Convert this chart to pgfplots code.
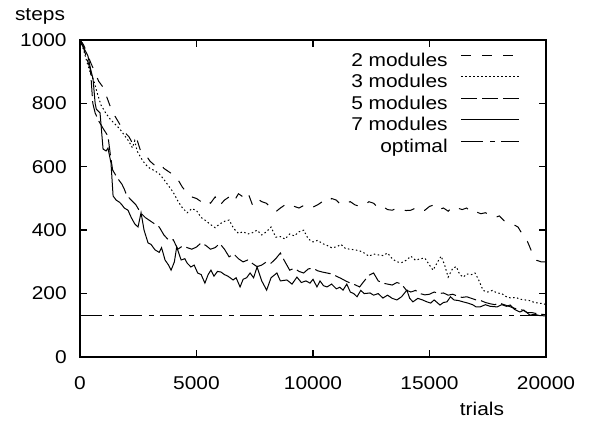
\documentclass[border=0pt]{standalone}
\usepackage{fontspec}
\setmainfont{Liberation Sans}[FakeStretch=1.13]
\usepackage{pgfplots}
\pgfplotsset{compat=1.18}

\begin{document}
\fontsize{18.5bp}{21bp}\selectfont
\begin{tikzpicture}
\begin{axis}[
  at={(0,0)}, anchor=south west,
  scale only axis,
  width=466bp, height=317bp,
  xmin=0, xmax=20000,
  ymin=0, ymax=1000,
  xtick={0,5000,10000,15000,20000},
  ytick={0,200,400,600,800,1000},
  scaled x ticks=false,
  /pgf/number format/assume math mode=true,
  /pgf/number format/1000 sep={},
  tick align=inside,
  major tick length=7bp,
  axis line style={line width=1.4bp},
  every tick/.style={line width=1.4bp, black},
  xticklabel style={yshift=-13bp},
  yticklabel style={xshift=-7bp},
  clip=false,
  legend plot pos=right,
  legend cell align=right,
  legend image code/.code={\draw[#1] (0bp,6bp) -- (58bp,6bp);},
  legend style={draw=none, fill=none, inner sep=0pt,
    at={(rel axis cs:0.944,0.967)}, anchor=north east,
    nodes={text height=13.5bp, text depth=3.5bp, inner sep=2bp},
    row sep=0.5bp,
    /tikz/every odd column/.append style={column sep=11bp}},
]
% 2 modules
\addplot[black, line width=1bp, dash pattern=on 10bp off 11bp] coordinates {
(0,1000)(150,985)(300,960)(450,930)(600,905)(800,870)(1000,850)(1150,820)(1300,790)
(1500,760)(1700,735)(1900,710)(2100,695)(2300,668)(2450,685)(2600,650)(2800,640)
(3000,618)(3200,605)(3400,612)(3600,595)(3800,585)(4000,575)(4200,560)(4400,535)
(4600,518)(4800,505)(5000,500)(5200,490)(5400,498)(5600,485)(5800,505)(6000,478)
(6200,495)(6400,505)(6600,490)(6800,515)(7000,505)(7200,520)(7400,480)(7600,500)
(7800,490)(8000,485)(8200,470)(8400,458)(8600,470)(8800,480)(9000,485)(9200,475)
(9400,470)(9600,478)(9800,470)(10000,473)(10200,480)(10400,490)(10600,485)(10800,500)
(11000,495)(11200,480)(11400,485)(11600,490)(11800,480)(12000,475)(12200,478)(12400,490)
(12600,485)(12800,470)(13000,475)(13200,465)(13400,463)(13600,470)(13800,465)(14000,462)
(14200,463)(14400,470)(14600,460)(14800,463)(15000,475)(15200,480)(15400,465)(15600,470)
(15800,460)(16000,475)(16200,470)(16400,465)(16600,470)(16800,455)(17000,458)(17200,452)
(17400,455)(17600,448)(17800,440)(18000,445)(18200,430)(18400,422)(18600,418)(18800,410)
(19000,385)(19200,365)(19400,330)(19600,305)(19800,300)(20000,300)
};
\addlegendentry{2 modules}
% 3 modules
\addplot[black, line width=1bp, dash pattern=on 1.5bp off 2.5bp] coordinates {
(0,1000)(150,970)(300,930)(450,895)(600,870)(750,830)(900,795)(1100,770)(1300,750)
(1500,735)(1700,720)(1900,700)(2100,680)(2250,660)(2350,682)(2450,650)(2600,630)
(2800,608)(3000,595)(3200,588)(3400,578)(3600,560)(3800,540)(4000,520)(4200,492)
(4400,470)(4600,455)(4800,468)(5000,462)(5200,440)(5400,430)(5600,418)(5800,408)
(6000,420)(6200,428)(6400,432)(6600,405)(6800,390)(7000,395)(7200,388)(7400,392)
(7600,400)(7800,385)(8000,395)(8200,410)(8400,378)(8600,380)(8800,372)(9000,388)
(9200,382)(9400,395)(9600,400)(9800,372)(10000,363)(10200,368)(10400,358)(10600,352)
(10800,345)(11000,347)(11200,355)(11400,342)(11600,340)(11800,338)(12000,335)(12200,328)
(12400,318)(12600,325)(12800,322)(13000,320)(13200,328)(13400,310)(13600,300)(13800,298)
(14000,305)(14200,318)(14400,305)(14600,310)(14800,312)(15000,290)(15150,274)(15350,300)
(15500,318)(15650,290)(15800,252)(16000,280)(16150,285)(16300,260)(16450,252)(16600,262)
(16800,260)(16950,265)(17100,245)(17300,210)(17500,205)(17700,210)(17900,202)(18100,200)
(18300,190)(18500,186)(18700,188)(18900,182)(19100,180)(19300,178)(19500,172)(19700,170)
(19900,168)(20000,165)
};
\addlegendentry{3 modules}
% 5 modules
\addplot[black, line width=1bp, dash pattern=on 16bp off 5bp] coordinates {
(0,1000)(150,975)(300,940)(450,905)(550,800)(650,770)(800,745)(1000,720)(1200,697)
(1300,640)(1400,590)(1600,565)(1800,545)(1900,530)(2000,510)(2200,495)(2400,480)
(2600,455)(2800,440)(3000,430)(3200,420)(3400,410)(3600,385)(3800,369)(4000,370)
(4200,340)(4400,350)(4600,345)(4800,340)(5000,347)(5200,360)(5400,352)(5600,340)
(5800,345)(6000,358)(6200,340)(6400,316)(6600,325)(6800,310)(7000,300)(7200,306)
(7400,295)(7600,285)(7800,290)(8000,300)(8200,296)(8400,310)(8600,328)(8800,300)
(9000,274)(9200,280)(9400,270)(9600,265)(9800,278)(10000,280)(10200,272)(10400,268)
(10600,265)(10800,262)(11000,255)(11200,248)(11400,240)(11600,233)(11800,228)(12000,221)
(12200,240)(12400,258)(12600,265)(12800,240)(13000,233)(13200,230)(13400,227)(13600,235)
(13800,230)(14000,211)(14200,205)(14400,210)(14600,200)(14800,196)(15000,198)(15200,205)
(15400,200)(15600,202)(15800,195)(16000,198)(16200,192)(16400,188)(16600,190)(16800,185)
(17000,180)(17200,178)(17400,172)(17600,168)(17800,165)(18000,170)(18200,165)(18400,160)
(18600,155)(18800,150)(19000,148)(19200,140)(19400,140)(19600,137)(19800,135)(20000,133)
};
\addlegendentry{5 modules}
% 7 modules
\addplot[black, line width=1bp] coordinates {
(0,1000)(100,990)(200,970)(340,950)(450,910)(560,877)(650,800)(700,782)(860,770)
(990,656)(1120,650)(1200,659)(1330,612)(1420,508)(1550,495)(1700,488)(1800,480)
(1900,470)(2060,463)(2200,440)(2350,420)(2490,410)(2620,455)(2750,400)(2920,360)
(3050,355)(3220,338)(3400,330)(3500,345)(3650,306)(3800,290)(3910,274)(4050,300)
(4150,347)(4340,306)(4500,310)(4600,296)(4760,284)(4900,290)(5050,265)(5200,260)
(5360,233)(5500,260)(5620,274)(5750,255)(5900,270)(6050,268)(6200,260)(6350,255)
(6570,243)(6700,250)(6870,221)(7000,245)(7150,250)(7300,265)(7450,250)(7600,284)
(7800,240)(8010,211)(8200,250)(8450,265)(8600,240)(8880,243)(9100,230)(9310,252)
(9500,235)(9700,240)(9870,233)(10000,245)(10170,221)(10300,240)(10450,225)(10600,221)
(10800,230)(11000,215)(11150,220)(11290,211)(11450,230)(11600,205)(11750,200)(11890,190)
(12050,210)(12200,200)(12450,202)(12600,195)(12800,200)(13000,186)(13200,195)(13400,185)
(13600,180)(13800,190)(14030,211)(14150,185)(14290,174)(14500,185)(14700,180)(14890,174)
(15050,170)(15200,180)(15450,164)(15600,172)(15750,174)(15900,190)(16050,180)(16250,178)
(16440,174)(16650,170)(16850,165)(17000,158)(17170,158)(17400,165)(17600,160)(17900,158)
(18100,165)(18300,160)(18460,164)(18650,150)(18880,142)(19050,148)(19310,132)(19500,135)
(19700,131)(19900,130)(20000,130)
};
\addlegendentry{7 modules}
% optimal
\addplot[black, line width=1bp, dash pattern=on 22bp off 7bp on 5bp off 6bp] coordinates {
(0,130)(20000,130)
};
\addlegendentry{optimal}
\node at (rel axis cs:0,1) [xshift=-40bp, yshift=24bp] {steps};
\node at (rel axis cs:0,0) [xshift=402bp, yshift=-52bp] {trials};
\end{axis}
\path (-80bp,-69bp) rectangle (509bp,357bp);
\end{tikzpicture}
\end{document}
